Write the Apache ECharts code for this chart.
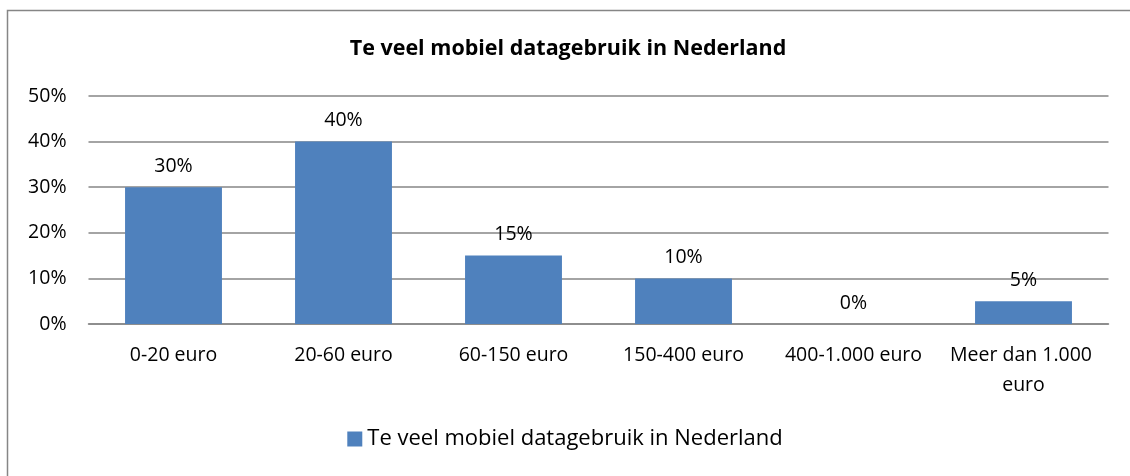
<!DOCTYPE html>
<html><head><meta charset="utf-8">
<script src="https://cdn.jsdelivr.net/npm/echarts@6/dist/echarts.min.js"></script>
<style>html,body{margin:0;padding:0;background:#fff}#c{width:1130px;height:476px}</style>
</head><body><div id="c"></div>
<script>
const title = 'Te veel mobiel datagebruik in Nederland';
const categories = ['0-20 euro','20-60 euro','60-150 euro','150-400 euro','400-1.000 euro','Meer dan 1.000 euro'];
const values = [30, 40, 15, 10, 0, 5];
const seriesName = 'Te veel mobiel datagebruik in Nederland';
const FONT = '"Open Sans", "Liberation Sans", sans-serif';
const chart = echarts.init(document.getElementById('c'));
chart.setOption({
  animation: false,
  graphic: [{type:'rect', shape:{x:7.5,y:10.5,width:1140,height:480}, style:{fill:'none', stroke:'#868686', lineWidth:1.5}, z:-1}],
  title: {text: title, left: 563, textAlign:'center', top: 33, textStyle:{fontFamily:FONT, fontWeight:'bold', fontSize:21.5, color:'#000'}},
  legend: {bottom: 21, left:'center', itemWidth:15, itemHeight:15, itemGap:6, icon:'rect',
    textStyle:{fontFamily:FONT, fontSize:22, color:'#000'}, data:[seriesName]},
  grid: {left: 88.5, right: 1130-1108.5, top: 96, bottom: 476-324, containLabel:false},
  xAxis: {type:'category', data: categories,
    axisLine:{lineStyle:{color:'#868686', width:1.5}}, axisTick:{show:false},
    axisLabel:{fontFamily:FONT, fontSize:19.5, color:'#000', margin:16, interval:0, width:165, overflow:'break', lineHeight:30}},
  yAxis: {type:'value', min:0, max:50, interval:10,
    axisLabel:{formatter:'{value}%', fontFamily:FONT, fontSize:19.5, color:'#000', margin:22},
    splitLine:{lineStyle:{color:'#868686', width:1.5}}, axisLine:{show:false}, axisTick:{show:false}},
  series: [{name: seriesName, type:'bar', data: values, barCategoryGap:'43%',
    itemStyle:{color:'#4F81BD'},
    label:{show:true, position:'top', distance:11, formatter:'{c}%', fontFamily:FONT, fontSize:19.5, color:'#000'}}]
});
</script></body></html>
